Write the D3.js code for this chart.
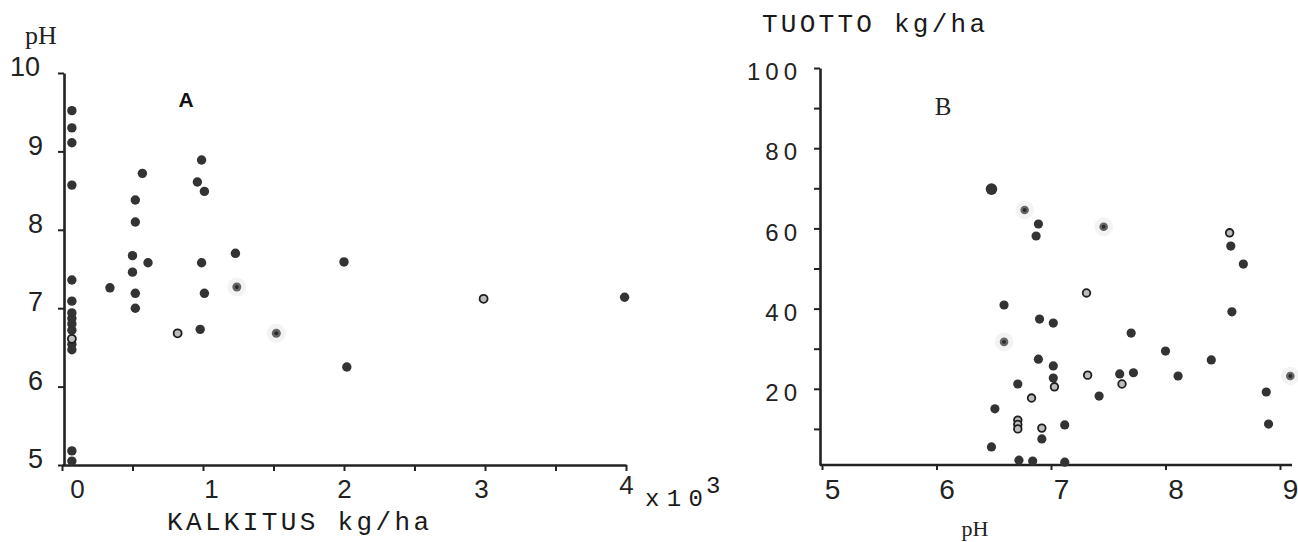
<!DOCTYPE html>
<html>
<head>
<meta charset="utf-8">
<script src="https://cdn.jsdelivr.net/npm/d3@7/dist/d3.min.js"></script>
<style>
  html, body { margin: 0; padding: 0; background: #fff; }
  svg { display: block; }
  .tick line, .domain { stroke: #222; }
  .tick text { font-family: "Liberation Sans", Arial, sans-serif; fill: #222; }
</style>
</head>
<body>
<svg id="chart" width="1298" height="542"></svg>
<script>
// ---------- Panel A: liming (x10^3 kg/ha) vs. soil pH ----------
const limeSolid = [0.07, 0.07, 0.07, 0.07, 0.07, 0.07, 0.07, 0.07, 0.07, 0.07, 0.07, 0.07, 0.07, 0.07,
                   0.99, 0.57, 0.96, 1.01, 0.52, 0.52, 0.50, 0.61, 0.50, 0.99, 1.23, 2.00, 0.34,
                   0.52, 1.01, 0.52, 0.98, 2.02, 3.99];
const phSolid   = [9.52, 9.30, 9.11, 8.57, 7.36, 7.09, 6.94, 6.87, 6.80, 6.72, 6.54, 6.47, 5.18, 5.05,
                   8.89, 8.72, 8.61, 8.49, 8.38, 8.10, 7.67, 7.58, 7.46, 7.58, 7.70, 7.59, 7.26,
                   7.19, 7.19, 7.00, 6.73, 6.25, 7.14];
const limeRing  = [0.82, 2.99, 0.07];
const phRing    = [6.68, 7.12, 6.61];
const limeFaint = [1.24, 1.52];
const phFaint   = [7.27, 6.68];

const limeTicks = [0, 0.5, 1, 1.5, 2, 2.5, 3, 3.5, 4];
const phTicksA  = [5, 6, 7, 8, 9, 10];

// ---------- Panel B: soil pH vs. yield (kg/ha) ----------
const phBSolid    = [6.48, 6.89, 6.87, 8.57, 8.68, 8.58, 6.59, 6.90, 7.02, 7.70, 8.00, 6.89, 8.40,
                     7.02, 7.02, 7.60, 7.72, 8.11, 6.71, 7.42, 8.88, 6.51, 6.92, 7.12, 8.90, 6.48,
                     6.72, 6.84, 7.12];
const yieldSolid  = [69.8, 61.1, 58.1, 55.6, 51.1, 39.2, 40.9, 37.4, 36.4, 33.9, 29.4, 27.4, 27.2,
                     25.7, 22.7, 23.7, 24.0, 23.2, 21.2, 18.2, 19.2, 15.0, 7.5, 11.0, 11.2, 5.5,
                     2.2, 2.0, 1.7];
const phBRing     = [8.56, 7.31, 7.03, 7.32, 7.62, 6.83, 6.71, 6.71, 6.71, 6.92];
const yieldRing   = [58.9, 43.9, 20.5, 23.4, 21.2, 17.7, 12.2, 11.1, 10.0, 10.2];
const phBFaint    = [6.77, 7.46, 6.59, 9.09];
const yieldFaint  = [64.6, 60.4, 31.7, 23.2];

const phTicksB    = [5, 6, 7, 8, 9];
const yieldTicks  = [10, 20, 30, 40, 50, 60, 70, 80, 90, 100];

const svg = d3.select("#chart");
const zip = (xs, ys) => xs.map((x, i) => [x, ys[i]]);

// dot renderers shared by both panels
function solidDots(g, pts, x, y, r, fill) {
  return g.selectAll(null).data(pts).enter().append("circle")
    .attr("cx", d => x(d[0])).attr("cy", d => y(d[1]))
    .attr("r", r).attr("fill", fill);
}
function ringDots(g, pts, x, y, r) {
  g.selectAll(null).data(pts).enter().append("circle")
    .attr("cx", d => x(d[0])).attr("cy", d => y(d[1]))
    .attr("r", r - 0.8).attr("fill", "#bdbdbd")
    .attr("stroke", "#1e1e1e").attr("stroke-width", 1.8);
}
function faintDots(g, pts, x, y, r) {
  const sel = g.selectAll(null).data(pts).enter().append("g")
    .attr("transform", d => `translate(${x(d[0])},${y(d[1])})`);
  sel.append("circle").attr("r", r + 5).attr("fill", "#f3f3f3");
  sel.append("circle").attr("r", r).attr("fill", "#666");
  sel.append("circle").attr("r", r * 0.45).attr("fill", "#2a2a2a");
}

// ================= Panel A =================
const xA = d3.scaleLinear().domain([0, 4]).range([62, 626]);
const yA = d3.scaleLinear().domain([5, 10]).range([465, 73]);

const axA_y = svg.append("g")
  .attr("transform", "translate(64,0)")
  .call(d3.axisLeft(yA).tickValues(phTicksA).tickSize(6).tickSizeOuter(0).tickPadding(15)
        .tickFormat(d3.format("d")));
axA_y.selectAll(".tick text").attr("font-size", 27).attr("y", -6)
  .attr("dx", d => d === 10 ? -3 : 0);

const axA_x = svg.append("g")
  .attr("transform", "translate(0,465)")
  .call(d3.axisBottom(xA).tickValues(limeTicks).tickSize(6).tickSizeOuter(0).tickPadding(9)
        .tickFormat(d => Number.isInteger(d) ? d3.format("d")(d) : ""));
axA_x.selectAll(".tick text").attr("font-size", 26)
  .attr("dx", d => d === 0 ? 15 : (d === 1 ? 8 : (d === 3 ? -4 : 0)))
  .attr("y", d => d === 4 ? 11 : 15);

[axA_y, axA_x].forEach(a => {
  a.select(".domain").attr("stroke-width", 2.6);
  a.selectAll(".tick line").attr("stroke-width", 2);
});

const gA = svg.append("g");
faintDots(gA, zip(limeFaint, phFaint), xA, yA, 4.5);
solidDots(gA, zip(limeSolid, phSolid), xA, yA, 4.7, "#333");
ringDots(gA, zip(limeRing, phRing), xA, yA, 4.8);

svg.append("text").attr("x", 25).attr("y", 44)
  .attr("font-family", "Liberation Serif, serif").attr("font-size", 26).attr("fill", "#222")
  .text("pH");
svg.append("text").attr("x", 186).attr("y", 107).attr("text-anchor", "middle")
  .attr("font-family", "Liberation Sans, sans-serif").attr("font-weight", "bold")
  .attr("font-size", 21).attr("fill", "#111").text("A");
svg.append("text").attr("x", 167).attr("y", 530)
  .attr("font-family", "Liberation Mono, monospace").attr("font-size", 26).attr("fill", "#1a1a1a")
  .attr("textLength", 262).attr("lengthAdjust", "spacing")
  .text("KALKITUS kg/ha");
svg.append("text").attr("x", 645).attr("y", 506)
  .attr("font-family", "Liberation Mono, monospace").attr("font-size", 24).attr("fill", "#1a1a1a")
  .attr("textLength", 58).attr("lengthAdjust", "spacing")
  .text("x10");
svg.append("text").attr("x", 706).attr("y", 493)
  .attr("font-family", "Liberation Mono, monospace").attr("font-size", 24).attr("fill", "#1a1a1a")
  .text("3");

// ================= Panel B =================
const xB = d3.scaleLinear().domain([5, 9]).range([822, 1280]);
const yB = d3.scaleLinear().domain([1, 100]).range([465, 68]);

const axB_y = svg.append("g")
  .attr("transform", "translate(820,0)")
  .call(d3.axisLeft(yB).tickValues(yieldTicks).tickSize(6).tickSizeOuter(0).tickPadding(12)
        .tickFormat(d => d % 20 === 0 ? d3.format("d")(d) : ""));
axB_y.selectAll(".tick text").attr("font-size", 24).attr("letter-spacing", 5).attr("y", 4);

const axB_x = svg.append("g")
  .attr("transform", "translate(0,465)")
  .call(d3.axisBottom(xB).tickValues(phTicksB).tickSize(5).tickSizeOuter(0).tickPadding(9)
        .tickFormat(d3.format("d")));
axB_x.selectAll(".tick text").attr("font-size", 28).attr("dx", 10);
axB_x.select(".domain").attr("d", `M${xB(5) - 2},0H${xB(9) + 12}`);

[axB_y, axB_x].forEach(a => {
  a.select(".domain").attr("stroke-width", 2.6);
  a.selectAll(".tick line").attr("stroke-width", 2);
});

const gB = svg.append("g");
faintDots(gB, zip(phBFaint, yieldFaint), xB, yB, 4.3);
const solidB = solidDots(gB, zip(phBSolid, yieldSolid), xB, yB, 4.6, "#333");
ringDots(gB, zip(phBRing, yieldRing), xB, yB, 4.6);
// the largest marker at the top of the cloud
solidB.filter((d, i) => i === 0).attr("r", 5.8);

svg.append("text").attr("x", 762).attr("y", 32)
  .attr("font-family", "Liberation Mono, monospace").attr("font-size", 26).attr("fill", "#1a1a1a")
  .attr("textLength", 223).attr("lengthAdjust", "spacing")
  .text("TUOTTO kg/ha");
svg.append("text").attr("x", 943).attr("y", 115).attr("text-anchor", "middle")
  .attr("font-family", "Liberation Serif, serif").attr("font-size", 25).attr("fill", "#222")
  .text("B");
svg.append("text").attr("x", 975).attr("y", 536).attr("text-anchor", "middle")
  .attr("font-family", "Liberation Serif, serif").attr("font-size", 22).attr("fill", "#222")
  .text("pH");
</script>
</body>
</html>
